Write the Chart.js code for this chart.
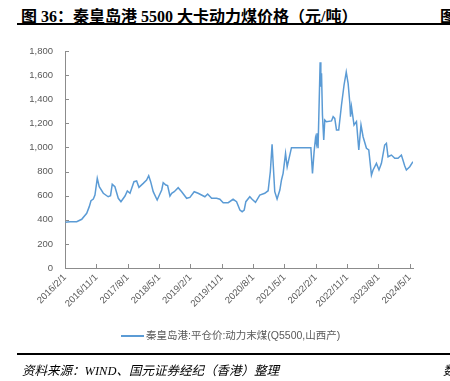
<!DOCTYPE html>
<html>
<head>
<meta charset="utf-8">
<script src="https://cdn.jsdelivr.net/npm/chart.js@4/dist/chart.umd.min.js"></script>
<style>
  html, body { margin: 0; padding: 0; background: #fff; }
  body { width: 450px; height: 381px; position: relative; overflow: hidden; }
  #wrap { position: absolute; left: 0; top: 0; width: 450px; height: 381px; }
  .title { position: absolute; left: 21px; top: 3px; font: bold 16px "Liberation Serif", "Noto Sans CJK SC"; color: #000; white-space: nowrap; }
  .title2 { position: absolute; left: 440px; top: 3px; font: bold 16px "Noto Sans CJK SC"; color: #000; }
  .rule { position: absolute; left: 17px; width: 433px; height: 2px; background: #000; }
  .source { position: absolute; left: 22px; top: 360px; font: italic 12.5px "Liberation Serif", "Noto Sans CJK SC"; color: #000; white-space: nowrap; }
  .source2 { position: absolute; left: 443px; top: 360px; font: italic 12.5px "Noto Sans CJK SC"; color: #000; }
  .legend { position: absolute; left: 121px; top: 327px; font: 10.5px "Liberation Sans", "Noto Sans CJK SC"; color: #595959; white-space: nowrap; }
  .legend i { display: inline-block; width: 23px; height: 2px; background: #5B9BD5; vertical-align: middle; margin-right: 2px; }
</style>
</head>
<body>
<div class="title">图 36：秦皇岛港 5500 大卡动力煤价格（元/吨）</div>
<div class="title2">图</div>
<div class="rule" style="top:23px"></div>
<div id="wrap"><canvas id="chart"></canvas></div>
<div class="legend"><i></i>秦皇岛港:平仓价:动力末煤(Q5500,山西产)</div>
<div class="rule" style="top:353px"></div>
<div class="source">资料来源：WIND、国元证券经纪（香港）整理</div>
<div class="source2">数</div>
<script>
// 数据：日期与价格（元/吨）
const dates = [
  '2016-02-05', '2016-03-14', '2016-05-12', '2016-06-25', '2016-08-08', '2016-08-30', '2016-09-15',
  '2016-10-05', '2016-10-19', '2016-11-09', '2016-11-26', '2016-12-31', '2017-02-13', '2017-03-03',
  '2017-03-18', '2017-04-11', '2017-05-10', '2017-06-03', '2017-07-08', '2017-07-28', '2017-08-21',
  '2017-09-25', '2017-10-18', '2017-11-08', '2017-12-15', '2018-01-14', '2018-02-02', '2018-02-19',
  '2018-03-11', '2018-04-15', '2018-05-24', '2018-06-07', '2018-06-30', '2018-07-15', '2018-08-05',
  '2018-08-20', '2018-09-12', '2018-10-16', '2018-11-16', '2018-12-29', '2019-01-27', '2019-03-04',
  '2019-04-08', '2019-06-06', '2019-06-30', '2019-08-04', '2019-09-17', '2019-10-15', '2019-11-14',
  '2019-12-27', '2020-02-09', '2020-03-09', '2020-04-08', '2020-04-27', '2020-05-15', '2020-05-29',
  '2020-07-03', '2020-07-23', '2020-08-22', '2020-09-29', '2020-11-12', '2020-12-11', '2020-12-30',
  '2021-01-15', '2021-02-08', '2021-02-28', '2021-03-22', '2021-04-06', '2021-04-20', '2021-05-11',
  '2021-05-25', '2021-07-02', '2021-12-19', '2022-01-03', '2022-01-17', '2022-01-29', '2022-02-07',
  '2022-02-12', '2022-02-21', '2022-03-09', '2022-03-15', '2022-03-21', '2022-03-29', '2022-04-10',
  '2022-04-19', '2022-05-03', '2022-06-17', '2022-07-01', '2022-07-15', '2022-07-30', '2022-08-19',
  '2022-09-13', '2022-10-05', '2022-10-24', '2022-11-10', '2022-11-25', '2022-12-01', '2022-12-09',
  '2023-01-01', '2023-01-22', '2023-02-12', '2023-03-01', '2023-03-19', '2023-04-18', '2023-05-08',
  '2023-06-01', '2023-06-15', '2023-07-14', '2023-08-06', '2023-08-27', '2023-09-25', '2023-10-10',
  '2023-10-24', '2023-11-23', '2023-12-22', '2024-01-20', '2024-02-19', '2024-03-18', '2024-04-02',
  '2024-05-01', '2024-05-29'
];
const prices = [
  379, 384, 384, 404, 454, 509, 558,
  572, 605, 744, 674, 620, 591, 600,
  694, 674, 578, 550, 597, 639, 620,
  716, 722, 669, 702, 730, 766, 716,
  633, 564, 647, 708, 688, 683, 597,
  620, 633, 666, 633, 578, 586, 633,
  620, 591, 614, 578, 578, 570, 542,
  542, 570, 550, 481, 467, 481, 550,
  591, 570, 545, 605, 620, 641, 800,
  1026, 633, 572, 647, 730, 785, 951,
  840, 998, 998, 785, 965, 1076, 1034,
  1117, 993, 1706, 1504, 1615, 1269, 1062,
  1228, 1214, 1220, 1255, 1241, 1145, 1145,
  1352, 1518, 1625, 1532, 1366, 1255, 1338,
  1186, 1214, 979, 1186, 1089, 993, 979,
  771, 813, 868, 813, 868, 1020, 1034,
  923, 937, 910, 910, 937, 846, 813,
  840, 882
];
const tickLabels = [
  '2016/2/1', '2016/11/1', '2017/8/1', '2018/5/1', '2019/2/1', '2019/11/1',
  '2020/8/1', '2021/5/1', '2022/2/1', '2022/11/1', '2023/8/1', '2024/5/1'
];
const seriesName = '秦皇岛港:平仓价:动力末煤(Q5500,山西产)';

const axisColor = '#8c8c8c';
const textColor = '#595959';

// 日期 -> 自 2016/2/1 起的月数
function toMonth(str) {
  const p = str.split(/[-\/]/).map(Number);
  return (p[0] - 2016) * 12 + (p[1] - 2) + (p[2] - 1) / 30;
}

const points = dates.map((d, i) => ({ x: toMonth(d), y: prices[i] }));
const tickMonths = tickLabels.map(toMonth);

// 刻度线画在坐标轴内侧
const innerTicks = {
  id: 'innerTicks',
  afterDraw(chart) {
    const { ctx, chartArea, scales } = chart;
    ctx.save();
    ctx.strokeStyle = axisColor;
    ctx.lineWidth = 1;
    ctx.beginPath();
    tickMonths.forEach(m => {
      const x = Math.round(scales.x.getPixelForValue(m)) + 0.5;
      ctx.moveTo(x, chartArea.bottom);
      ctx.lineTo(x, chartArea.bottom - 4);
    });
    scales.y.ticks.forEach(t => {
      const y = Math.round(scales.y.getPixelForValue(t.value)) + 0.5;
      ctx.moveTo(chartArea.left, y);
      ctx.lineTo(chartArea.left + 4, y);
    });
    ctx.stroke();
    ctx.restore();
  }
};

new Chart(document.getElementById('chart'), {
  type: 'line',
  data: {
    datasets: [{
      label: seriesName,
      data: points,
      borderColor: '#5B9BD5',
      borderWidth: 1.5,
      pointRadius: 0,
      tension: 0,
      fill: false
    }]
  },
  options: {
    responsive: true,
    maintainAspectRatio: false,
    animation: false,
    layout: { padding: { left: 0, top: 51, right: 37, bottom: 53 } },
    plugins: { legend: { display: false }, tooltip: { enabled: false } },
    scales: {
      x: {
        type: 'linear',
        min: 0,
        max: points[points.length - 1].x,
        afterBuildTicks: s => { s.ticks = tickMonths.map(v => ({ value: v })); },
        afterFit: s => { s.height = 60; },
        grid: { display: false, drawTicks: false, tickLength: 0 },
        border: { display: true, color: axisColor, width: 1 },
        ticks: {
          autoSkip: false,
          minRotation: 45,
          maxRotation: 45,
          padding: 4,
          color: textColor,
          font: { family: 'Liberation Sans', size: 9.5 },
          callback: (v, i) => tickLabels[i]
        }
      },
      y: {
        min: 0,
        max: 1800,
        afterFit: s => { s.width = 65; },
        grid: { display: false, drawTicks: false, tickLength: 0 },
        border: { display: true, color: axisColor, width: 1 },
        ticks: {
          stepSize: 200,
          padding: 12,
          color: textColor,
          font: { family: 'Liberation Sans', size: 9.5 },
          callback: v => v.toLocaleString('en-US')
        }
      }
    }
  },
  plugins: [innerTicks]
});
</script>
</body>
</html>
